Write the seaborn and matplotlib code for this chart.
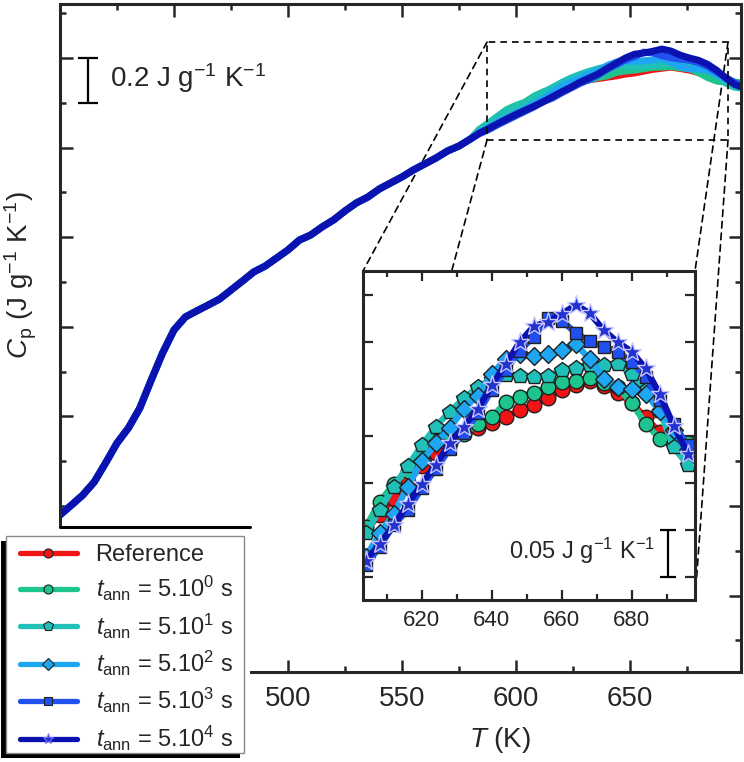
import numpy as np
import pandas as pd
import matplotlib
matplotlib.use("Agg")
import matplotlib.pyplot as plt
import seaborn as sns
from matplotlib.lines import Line2D
from matplotlib.patches import Rectangle, ConnectionPatch
from matplotlib.ticker import MultipleLocator

# ----- Data (Cp in J g-1 K-1) -------------------------------------------
T_base = np.arange(400, 581, 5)
cp_base = [0.760, 0.804, 0.849, 0.907, 0.992, 1.081, 1.148, 1.237, 1.362, 1.483,
           1.586, 1.644, 1.671, 1.697, 1.724, 1.764, 1.804, 1.845, 1.871, 1.907,
           1.943, 1.987, 2.010, 2.046, 2.077, 2.117, 2.153, 2.179, 2.215, 2.242,
           2.269, 2.300, 2.327, 2.354, 2.385, 2.407, 2.438]

T_peak = np.arange(584, 701, 4)
cp_ref = [2.472, 2.497, 2.525, 2.556, 2.580, 2.599, 2.616, 2.633, 2.651, 2.668,
          2.682, 2.693, 2.703, 2.708, 2.714, 2.720, 2.728, 2.733, 2.741, 2.749,
          2.754, 2.759, 2.753, 2.746, 2.735, 2.720, 2.704, 2.694, 2.683, 2.674]
cp_t0 = [2.482, 2.510, 2.540, 2.570, 2.588, 2.603, 2.630, 2.649, 2.663, 2.678,
         2.695, 2.701, 2.702, 2.713, 2.720, 2.736, 2.742, 2.746, 2.752, 2.758,
         2.759, 2.762, 2.756, 2.752, 2.735, 2.713, 2.697, 2.692, 2.692, 2.688]
cp_t1 = [2.480, 2.508, 2.538, 2.565, 2.580, 2.596, 2.621, 2.646, 2.668, 2.690,
         2.710, 2.726, 2.740, 2.752, 2.761, 2.765, 2.764, 2.763, 2.764, 2.770,
         2.772, 2.776, 2.776, 2.777, 2.766, 2.749, 2.727, 2.688, 2.669, 2.665]
cp_t2 = [2.468, 2.490, 2.512, 2.532, 2.552, 2.571, 2.596, 2.617, 2.646, 2.673,
         2.692, 2.708, 2.729, 2.743, 2.766, 2.782, 2.787, 2.785, 2.787, 2.792,
         2.798, 2.782, 2.761, 2.752, 2.750, 2.745, 2.727, 2.706, 2.685, 2.672]
cp_t3 = [2.462, 2.480, 2.502, 2.522, 2.542, 2.562, 2.582, 2.605, 2.621, 2.644,
         2.665, 2.686, 2.703, 2.724, 2.749, 2.770, 2.791, 2.806, 2.826, 2.823,
         2.810, 2.801, 2.795, 2.790, 2.779, 2.763, 2.738, 2.713, 2.690, 2.672]
cp_t4 = [2.465, 2.485, 2.507, 2.528, 2.548, 2.567, 2.585, 2.605, 2.627, 2.649,
         2.669, 2.692, 2.710, 2.729, 2.754, 2.777, 2.800, 2.817, 2.822, 2.830,
         2.840, 2.831, 2.813, 2.800, 2.790, 2.772, 2.745, 2.711, 2.681, 2.667]

labels = ["Reference",
          r"$t_\mathrm{ann}$ = 5.10$^0$ s",
          r"$t_\mathrm{ann}$ = 5.10$^1$ s",
          r"$t_\mathrm{ann}$ = 5.10$^2$ s",
          r"$t_\mathrm{ann}$ = 5.10$^3$ s",
          r"$t_\mathrm{ann}$ = 5.10$^4$ s"]
series = [cp_ref, cp_t0, cp_t1, cp_t2, cp_t3, cp_t4]

main_ticks = [400, 450, 500, 550, 600, 650]
main_ticklabels = ["", "", "500", "550", "600", "650"]

# ----- Styles -----------------------------------------------------------
colors = ["#f01414", "#1dc48e", "#20c0b8", "#1ea6f2", "#2150f0", "#0b12b0"]
markers = ["o", "o", "p", "D", "s", "*"]
ins_ms = [10.5, 10.5, 11.5, 9, 9, 14]
leg_ms = [6.5, 6.5, 7, 6.5, 5.5, 8]
mfaces = ["#f01414", "#1dc48e", "#20c0b8", "#1ea6f2", "#2150f0", "#2233d0"]
medges = ["#202020"] * 5 + ["#c8c8ff"]

sns.set_style("ticks")
plt.rcParams["font.family"] = ["Liberation Sans", "DejaVu Sans"]
plt.rcParams["mathtext.fontset"] = "custom"
plt.rcParams["mathtext.rm"] = "Liberation Sans"
plt.rcParams["mathtext.it"] = "Liberation Sans:italic"
plt.rcParams["mathtext.bf"] = "Liberation Sans:bold"

W, H = 744, 762
fig = plt.figure(figsize=(W / 100, H / 100), dpi=100)


def px_box(x0, y0, x1, y1):
    return [x0 / W, 1 - y1 / H, (x1 - x0) / W, (y1 - y0) / H]


# ----- Main axes --------------------------------------------------------
ax = fig.add_axes(px_box(60, 4, 741, 672))
for cp, c in zip(series, colors):
    df = pd.DataFrame({"T": np.concatenate([T_base, T_peak]),
                       "Cp": np.concatenate([cp_base, cp])})
    sns.lineplot(data=df, x="T", y="Cp", ax=ax, color=c, lw=5,
                 legend=False, solid_capstyle="round")

ax.set_xlim(400, 698.7)
ax.set_ylim(0.059, 3.041)
ax.set_xticks(main_ticks, labels=main_ticklabels)
ax.xaxis.set_minor_locator(MultipleLocator(25))
ax.yaxis.set_major_locator(MultipleLocator(0.4))
ax.yaxis.set_minor_locator(MultipleLocator(0.2))
ax.tick_params(which="both", direction="in", top=True, right=True,
               width=1.8, labelsize=20, labelleft=False, pad=10)
ax.tick_params(which="major", length=9)
ax.tick_params(which="minor", length=4.5)
ax.set_xlabel("")
ax.set_ylabel("")
for s in ax.spines.values():
    s.set_linewidth(2.2)

# scale bar
ax.errorbar([412.3], [2.7], yerr=[0.1], color="k", lw=1.6, capsize=7, capthick=1.6)
ax.text(421.9, 2.71, r"0.2 J g$^{-1}$ K$^{-1}$", fontsize=20, va="center", ha="left")

# zoom rectangle
rx0, rx1, ry0, ry1 = 587.3, 693.0, 2.434, 2.871
ax.add_patch(Rectangle((rx0, ry0), rx1 - rx0, ry1 - ry0, fill=False,
                       ls=(0, (4, 3)), lw=1.2, ec="k", zorder=3))

# ----- Inset ------------------------------------------------------------
axins = fig.add_axes(px_box(363, 271, 695, 600), zorder=2)
axins.set_facecolor("white")
ins = (T_peak >= 600)
for cp, c, m, ms, mf, me in zip(series, colors, markers, ins_ms, mfaces, medges):
    df = pd.DataFrame({"T": T_peak[ins], "Cp": np.array(cp)[ins]})
    sns.lineplot(data=df, x="T", y="Cp", ax=axins, color=c, lw=4.5,
                 marker=m, markersize=ms, markerfacecolor=mf,
                 markeredgecolor=me, markeredgewidth=1.0, legend=False)
axins.set_xlim(603.2, 698.1)
axins.set_ylim(2.525, 2.876)
axins.xaxis.set_major_locator(MultipleLocator(20))
axins.xaxis.set_minor_locator(MultipleLocator(10))
axins.yaxis.set_major_locator(MultipleLocator(0.05))
axins.tick_params(which="both", direction="in", top=True, right=True,
                  width=1.6, labelsize=16, labelleft=False, pad=7)
axins.tick_params(which="major", length=7)
axins.tick_params(which="minor", length=4)
axins.set_xlabel("")
axins.set_ylabel("")
for s in axins.spines.values():
    s.set_linewidth(2.2)

axins.errorbar([690.4], [2.575], yerr=[0.025], color="k", lw=1.6, capsize=6, capthick=1.6)
axins.text(686.7, 2.577, r"0.05 J g$^{-1}$ K$^{-1}$", fontsize=17, va="center", ha="right")

# dashed connectors from the zoom rectangle to the inset corners
for (xa, ya), (xb, yb) in [((rx0, ry1), (0, 1)), ((rx1, ry1), (1, 1)),
                           ((rx0, ry0), (0, 0)), ((rx1, ry0), (1, 0))]:
    con = ConnectionPatch(xyA=(xa, ya), coordsA="data", axesA=ax,
                          xyB=(xb, yb), coordsB="axes fraction", axesB=axins,
                          ls=(0, (4, 3)), lw=1.2, color="k")
    ax.add_artist(con)

# ----- Axis labels --------------------------------------------------------
fig.text(21 / W, 1 - 275 / H, r"$C_\mathrm{p}$ (J g$^{-1}$ K$^{-1}$)",
         rotation=90, ha="center", va="center", fontsize=20)
fig.text(500 / W, 1 - 740 / H, r"$T$ (K)", ha="center", va="center", fontsize=20)

# ----- Legend box ---------------------------------------------------------
fig.add_artist(Rectangle((0, 0), 250 / W, (H - 527) / H, transform=fig.transFigure,
                         fc="white", ec="none", zorder=10))
fig.add_artist(Line2D([60 / W, 250 / W], [1 - 527 / H] * 2, color="k", lw=2.2, zorder=11))
fig.add_artist(Rectangle((1 / W, 1 - 758 / H), 239 / W, 217 / H, transform=fig.transFigure,
                         fc="black", ec="none", zorder=11))
fig.add_artist(Rectangle((6 / W, 1 - 753 / H), 238 / W, 217 / H, transform=fig.transFigure,
                         fc="white", ec="#8a8a8a", lw=1.0, zorder=12))

handles = [Line2D([], [], color=c, lw=3.8, marker=m, markersize=ms,
                  markerfacecolor=mf, markeredgecolor=(me if i < 5 else "#7070ff"),
                  markeredgewidth=0.8)
           for i, (c, m, ms, mf, me) in enumerate(zip(colors, markers, leg_ms, mfaces, medges))]
leg = fig.legend(handles, labels, loc="upper left",
                 bbox_to_anchor=(20 / W, 1 - 544 / H), frameon=False, fontsize=17,
                 handlelength=2.4, handletextpad=0.8, labelspacing=0.35,
                 borderpad=0, borderaxespad=0)
leg.set_zorder(13)

fig.savefig("out.png", dpi=100)
